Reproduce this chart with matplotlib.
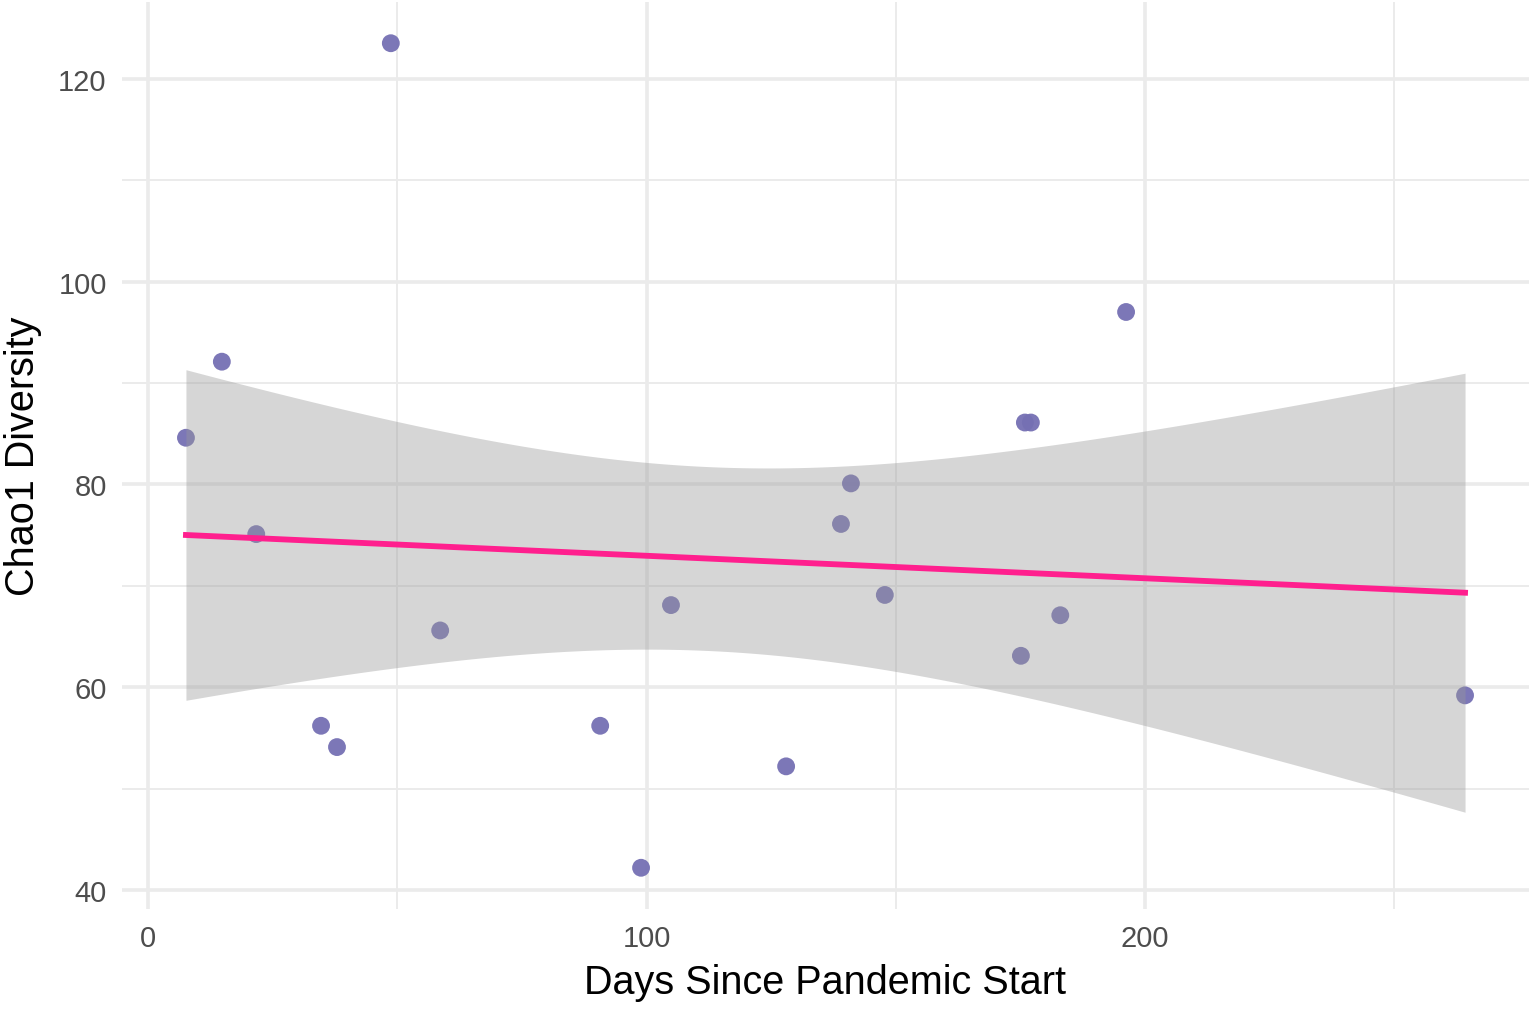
import numpy as np
import matplotlib
matplotlib.use("Agg")
import matplotlib.pyplot as plt

# Data
days = [7.6, 14.8, 21.7, 34.7, 37.9, 48.7, 58.6, 90.7, 98.9, 104.9,
        128.0, 139.0, 141.0, 147.8, 175.1, 175.9, 177.1, 183.0, 196.2, 264.2]
chao1 = [84.6, 92.1, 75.1, 56.2, 54.1, 123.5, 65.6, 56.2, 42.2, 68.1,
         52.2, 76.1, 80.1, 69.1, 63.1, 86.1, 86.1, 67.1, 97.0, 59.2]

x = np.array(days)
y = np.array(chao1)

# Linear fit with 95% confidence band (like geom_smooth(method="lm"))
n = len(x)
slope, intercept = np.polyfit(x, y, 1)
xs = np.linspace(x.min(), x.max(), 200)
ys = intercept + slope * xs
resid = y - (intercept + slope * x)
s = np.sqrt(np.sum(resid ** 2) / (n - 2))
t_crit = 2.100922  # t(0.975, df=18)
se = s * np.sqrt(1 / n + (xs - x.mean()) ** 2 / np.sum((x - x.mean()) ** 2))
lo = ys - t_crit * se
hi = ys + t_crit * se

plt.rcParams["font.family"] = ["Liberation Sans", "DejaVu Sans"]

fig = plt.figure(figsize=(15.34, 10.12), dpi=100)
ax = fig.add_axes([122 / 1534, 102 / 1012, 1407 / 1534, 907 / 1012])

# Grid
grid_col = "#EBEBEB"
for v in [0, 100, 200]:
    ax.axvline(v, color=grid_col, lw=2.6, zorder=0)
for v in [50, 150, 250]:
    ax.axvline(v, color=grid_col, lw=1.4, zorder=0)
for v in [40, 60, 80, 100, 120]:
    ax.axhline(v, color=grid_col, lw=2.6, zorder=0)
for v in [50, 70, 90, 110]:
    ax.axhline(v, color=grid_col, lw=1.4, zorder=0)

ax.scatter(x, y, s=165, color="#7570B3", alpha=0.95, edgecolors="none", zorder=2)
ax.fill_between(xs, lo, hi, color="#999999", alpha=0.4, lw=0, zorder=3)
ax.plot(xs, ys, color="#FF1F8E", lw=4.2, zorder=4)

xr = x.max() - x.min()
yr = y.max() - y.min()
ax.set_xlim(x.min() - 0.05 * xr, x.max() + 0.05 * xr)
ax.set_ylim(y.min() - 0.05 * yr, y.max() + 0.05 * yr)

ax.set_xticks([0, 100, 200])
ax.set_yticks([40, 60, 80, 100, 120])
ax.tick_params(length=0, labelsize=21, labelcolor="#4D4D4D", pad=11)
for sp in ax.spines.values():
    sp.set_visible(False)

ax.set_xlabel("Days Since Pandemic Start", fontsize=28.5, color="black", labelpad=8)
ax.set_ylabel("Chao1 Diversity", fontsize=28.5, color="black", labelpad=12)

fig.savefig("out.png", dpi=100)
